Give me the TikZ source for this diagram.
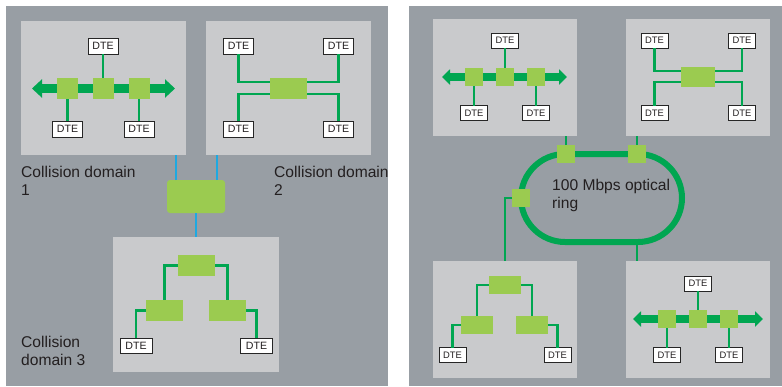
\documentclass[tikz,border=0pt]{standalone}
\usepackage{fontspec}
\setmainfont{Liberation Sans}
\usetikzlibrary{arrows.meta,shapes.misc}
\definecolor{panelgray}{HTML}{989EA4}
\definecolor{boxgray}{HTML}{C9CACC}
\definecolor{busgreen}{HTML}{00A651}
\definecolor{hubgreen}{HTML}{9BCB50}
\definecolor{linkblue}{HTML}{1EA9E1}
\definecolor{inkgray}{HTML}{231F20}

\begin{document}
\begin{tikzpicture}[x=1pt,y=-1pt,
  panel/.style={fill=panelgray},
  segbox/.style={fill=boxgray, inner sep=0pt, outer sep=0pt},
  hub/.style={fill=hubgreen, inner sep=0pt, outer sep=0pt},
  hubA/.style={hub, minimum size=21pt},
  hubB/.style={hub, minimum size=18pt},
  dte/.style={draw=black!85, fill=white, line width=0.7pt, inner sep=0pt, outer sep=0pt, text=inkgray},
  dteL/.style={dte, minimum width=30pt, minimum height=16pt, font=\fontsize{10.6}{12}\selectfont},
  dteS/.style={dte, minimum width=27pt, minimum height=15pt, font=\fontsize{9.4}{11}\selectfont},
  wire/.style={draw=busgreen, line width=2.2pt},
  link/.style={draw=linkblue, line width=2.6pt},
  busL/.style={draw=busgreen, line width=9.5pt, {Triangle[length=10pt,width=18pt]}-{Triangle[length=10pt,width=18pt]}},
  busS/.style={draw=busgreen, line width=8pt, {Triangle[length=8pt,width=15pt]}-{Triangle[length=8pt,width=15pt]}},
  lbl/.style={align=left, anchor=west, inner sep=0pt, text=inkgray, font=\fontsize{15.6}{18}\selectfont}
]
\useasboundingbox (0,0) rectangle (782,386);

% two background panels
\fill[panel] (6,6) rectangle (388,386);
\fill[panel] (409,6) rectangle (782,386);

% ---------------- left panel: three collision domains ----------------
\node[segbox, minimum width=165pt, minimum height=134pt] (b1) at (103.5,88) {};
\node[segbox, minimum width=165pt, minimum height=134pt] (b2) at (288.5,88) {};
\node[segbox, minimum width=166pt, minimum height=135pt] (b3) at (196,304.5) {};

% domain 1: bus with three taps
\coordinate (e1L) at (32,88.5);
\coordinate (e1R) at (175,88.5);
\draw[busL] (e1L) -- (e1R);
\node[hubA] (s11) at (67.5,88.5) {};
\node[hubA] (s12) at (103,88.5) {};
\node[hubA] (s13) at (139,88.5) {};
\node[dteL] (d11) at (103,46) {DTE};
\node[dteL] (d12) at (67.5,129) {DTE};
\node[dteL] (d13) at (139,129) {DTE};
\draw[wire] (d11.south) -- (s12.north);
\draw[wire] (s11.south) -- (d12.north);
\draw[wire] (s13.south) -- (d13.north);

% domain 2: star around a hub
\node[hub, minimum width=37pt, minimum height=21pt] (h2) at (288.5,88.5) {};
\node[dteL] (d21) at (238.5,46) {DTE};
\node[dteL] (d22) at (338.5,46) {DTE};
\node[dteL] (d23) at (238.5,129) {DTE};
\node[dteL] (d24) at (338.5,129) {DTE};
\draw[wire] (d21.south) |- ([yshift=6.5pt]h2.west);
\draw[wire] (d22.south) |- ([yshift=6.5pt]h2.east);
\draw[wire] (d23.north) |- ([yshift=-5.5pt]h2.west);
\draw[wire] (d24.north) |- ([yshift=-5.5pt]h2.east);

% switch joining the domains
\node[hub, minimum width=58pt, minimum height=33pt, rounded corners=3pt, fill=hubgreen] (sw) at (196,196.5) {};
\draw[link] ([xshift=-20pt]sw.north) -- ([xshift=-20pt]sw.north |- b1.south);
\draw[link] ([xshift=21pt]sw.north) -- ([xshift=21pt]sw.north |- b2.south);
\draw[link] (sw.south) -- (b3.north);

% domain 3: tree of hubs
\node[hub, minimum width=37pt, minimum height=21pt] (t3) at (196.5,265.5) {};
\node[hub, minimum width=37pt, minimum height=21pt] (l3) at (164.5,310.5) {};
\node[hub, minimum width=37pt, minimum height=21pt] (r3) at (227.5,310.5) {};
\node[dteL, minimum width=32pt, minimum height=15pt] (d31) at (136,345.5) {DTE};
\node[dteL, minimum width=32pt, minimum height=15pt] (d32) at (256.5,345.5) {DTE};
\draw[wire] (t3.west) -| (l3.north);
\draw[wire] (t3.east) -| (r3.north);
\draw[wire] (l3.west) -| (d31.north);
\draw[wire] (r3.east) -| (d32.north);

\node[lbl] (c1) at (21,181) {Collision domain\\1};
\node[lbl] (c2) at (274,181) {Collision domain\\2};
\node[lbl] (c3) at (21,351) {Collision\\domain 3};

% ---------------- right panel: optical ring ----------------
\node[segbox, minimum width=144pt, minimum height=117pt] (b4) at (505,77.5) {};
\node[segbox, minimum width=144pt, minimum height=117pt] (b5) at (698,77.5) {};
\node[segbox, minimum width=144pt, minimum height=117pt] (b6) at (505,319.5) {};
\node[segbox, minimum width=144pt, minimum height=117pt] (b7) at (698,319.5) {};

% bus segment (top left)
\coordinate (e4L) at (442,77);
\coordinate (e4R) at (567,77);
\draw[busS] (e4L) -- (e4R);
\node[hubB] (s41) at (474,77) {};
\node[hubB] (s42) at (505,77) {};
\node[hubB] (s43) at (536,77) {};
\node[dteS] (d41) at (505,40.5) {DTE};
\node[dteS] (d42) at (474,113) {DTE};
\node[dteS] (d43) at (536,113) {DTE};
\draw[wire] (d41.south) -- (s42.north);
\draw[wire] (s41.south) -- (d42.north);
\draw[wire] (s43.south) -- (d43.north);

% star segment (top right)
\node[hub, minimum width=34pt, minimum height=20pt] (h5) at (698,77) {};
\node[dteS] (d51) at (654.5,40.5) {DTE};
\node[dteS] (d52) at (742,40.5) {DTE};
\node[dteS] (d53) at (654.5,113) {DTE};
\node[dteS] (d54) at (742,113) {DTE};
\draw[wire] (d51.south) |- ([yshift=6pt]h5.west);
\draw[wire] (d52.south) |- ([yshift=6pt]h5.east);
\draw[wire] (d53.north) |- ([yshift=-5pt]h5.west);
\draw[wire] (d54.north) |- ([yshift=-5pt]h5.east);

% the ring and its attachment points
\node[rounded rectangle, draw=busgreen, line width=6pt, inner sep=0pt,
      minimum width=161pt, minimum height=88pt] (ring) at (601.5,198) {};
\node[hubB] (rs1) at (566,154) {};
\node[hubB] (rs2) at (637,154) {};
\node[hubB] (rs3) at (521,198) {};
\draw[wire] (rs1.north) -- (rs1.north |- b4.south);
\draw[wire] (rs2.north) -- (rs2.north |- b5.south);
\draw[wire] (rs3.west) -| (b6.north);
\draw[wire] (rs2 |- ring.south) -- (rs2 |- b7.north);
\node[lbl] (rt) at (552,195) {100 Mbps optical\\ring};

% tree segment (bottom left)
\node[hub, minimum width=32pt, minimum height=18pt] (t6) at (505,285) {};
\node[hub, minimum width=32pt, minimum height=18pt] (l6) at (477,325) {};
\node[hub, minimum width=32pt, minimum height=18pt] (r6) at (532,325) {};
\node[dteS] (d61) at (452.5,355) {DTE};
\node[dteS] (d62) at (557.5,355) {DTE};
\draw[wire] (t6.west) -| (l6.north);
\draw[wire] (t6.east) -| (r6.north);
\draw[wire] (l6.west) -| (d61.north);
\draw[wire] (r6.east) -| (d62.north);

% bus segment (bottom right)
\coordinate (e7L) at (633,319);
\coordinate (e7R) at (763,319);
\draw[busS] (e7L) -- (e7R);
\node[hubB] (s71) at (667,319) {};
\node[hubB] (s72) at (698,319) {};
\node[hubB] (s73) at (729,319) {};
\node[dteS] (d71) at (698,283.5) {DTE};
\node[dteS] (d72) at (667,355) {DTE};
\node[dteS] (d73) at (729,355) {DTE};
\draw[wire] (d71.south) -- (s72.north);
\draw[wire] (s71.south) -- (d72.north);
\draw[wire] (s73.south) -- (d73.north);
\end{tikzpicture}
\end{document}
